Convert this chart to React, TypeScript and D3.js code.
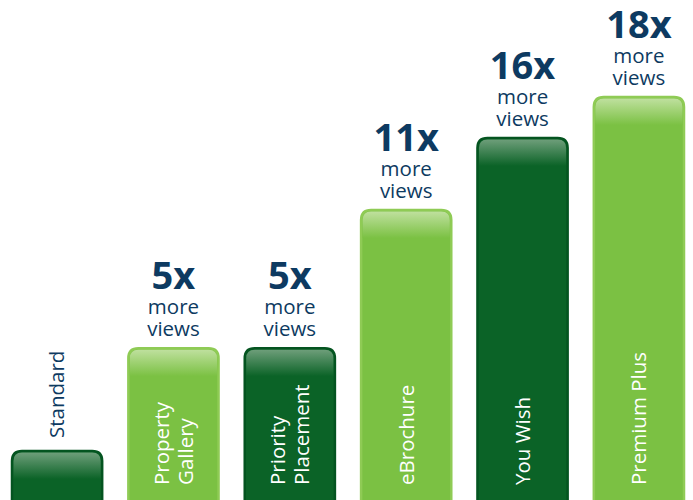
import React, { useEffect, useRef } from 'react';
import * as d3 from 'd3';

// bar order, left to right
const categories = ['Standard', 'Property Gallery', 'Priority Placement', 'eBrochure', 'You Wish', 'Premium Plus'];
// label lines inside / above the bar
const labelLines = [['Standard'], ['Property', 'Gallery'], ['Priority', 'Placement'], ['eBrochure'], ['You Wish'], ['Premium Plus']];
// multiplier shown above the bar (null = none)
const multipliers = [null, '5x', '5x', '11x', '16x', '18x'];
// bar height as share of the drawing height
const levels = [12.1, 37.5, 37.5, 71.6, 89.4, 99.5];
const shades = ['dark', 'light', 'dark', 'light', 'dark', 'light'];

const W = 693;
const H = 500;
const NAVY = '#0d3a61';
const FONT = '"Open Sans", "DejaVu Sans", sans-serif';

const App: React.FC = () => {
  const svgRef = useRef<SVGSVGElement>(null);

  useEffect(() => {
    if (!svgRef.current) return;
    const svg = d3.select(svgRef.current);
    svg.selectAll('*').remove();

    const x = d3.scaleBand<string>()
      .domain(categories)
      .range([12, 684])
      .paddingInner(0.225)
      .paddingOuter(0);

    const y = d3.scaleLinear().domain([0, 100]).range([H, H - 405]);

    const defs = svg.append('defs');
    const grads: Record<string, [string, string]> = {
      dark: ['#6e9e7a', '#0b6327'],
      light: ['#bfe09e', '#7bc143'],
    };
    Object.entries(grads).forEach(([k, [top, body]]) => {
      const g = defs.append('linearGradient')
        .attr('id', `grad-${k}`)
        .attr('x1', 0).attr('y1', 0).attr('x2', 0).attr('y2', 1);
      g.append('stop').attr('offset', '0').attr('stop-color', top);
      g.append('stop').attr('offset', '1').attr('stop-color', body);
    });

    const fill = { dark: '#0b6327', light: '#7bc143' } as Record<string, string>;
    const stroke = { dark: '#045420', light: '#8fcb55' } as Record<string, string>;

    const bw = x.bandwidth();
    const r = 10;

    categories.forEach((c, i) => {
      const x0 = x(c)!;
      const top = y(levels[i]);
      const kind = shades[i];
      const g = svg.append('g');

      // bar body with rounded top corners, extends below the bottom edge
      const path = `M${x0},${H + 10} L${x0},${top + r} Q${x0},${top} ${x0 + r},${top} L${x0 + bw - r},${top} Q${x0 + bw},${top} ${x0 + bw},${top + r} L${x0 + bw},${H + 10} Z`;
      g.append('path').attr('d', path).attr('fill', fill[kind]).attr('stroke', stroke[kind]).attr('stroke-width', 2.5);

      // top highlight
      const hh = 28;
      const hp = `M${x0 + 1.5},${top + hh} L${x0 + 1.5},${top + r} Q${x0 + 1.5},${top + 1.5} ${x0 + r},${top + 1.5} L${x0 + bw - r},${top + 1.5} Q${x0 + bw - 1.5},${top + 1.5} ${x0 + bw - 1.5},${top + r} L${x0 + bw - 1.5},${top + hh} Z`;
      g.append('path').attr('d', hp).attr('fill', `url(#grad-${kind})`);

      const cx = x0 + bw / 2;
      const lines = labelLines[i];
      const inside = i > 0;
      const baseY = inside ? H - 15 : top - 13;
      const t = g.append('g').attr('transform', `translate(${cx},${baseY}) rotate(-90)`);
      lines.forEach((ln, j) => {
        const off = (j - (lines.length - 1) / 2) * 24;
        t.append('text')
          .attr('x', 0)
          .attr('y', off)
          .attr('dy', '0.36em')
          .attr('fill', inside ? '#ffffff' : NAVY)
          .attr('font-family', FONT)
          .attr('font-size', 20.5)
          .attr('font-weight', 500)
          .text(ln);
      });

      const m = multipliers[i];
      if (m) {
        g.append('text')
          .attr('x', cx).attr('y', top - 12)
          .attr('text-anchor', 'middle')
          .attr('fill', NAVY).attr('font-family', FONT).attr('font-size', 20.5)
          .attr('font-weight', 500)
          .text('views');
        g.append('text')
          .attr('x', cx).attr('y', top - 34)
          .attr('text-anchor', 'middle')
          .attr('fill', NAVY).attr('font-family', FONT).attr('font-size', 20.5)
          .attr('font-weight', 500)
          .text('more');
        g.append('text')
          .attr('x', cx).attr('y', top - 59)
          .attr('text-anchor', 'middle')
          .attr('fill', NAVY).attr('font-family', FONT).attr('font-size', 38)
          .attr('font-weight', 'bold')
          .text(m);
      }
    });
  }, []);

  return (
    <svg
      ref={svgRef}
      width={W}
      height={H}
      style={{ position: 'absolute', left: 0, top: 0, background: '#ffffff' }}
    />
  );
};

export default App;
